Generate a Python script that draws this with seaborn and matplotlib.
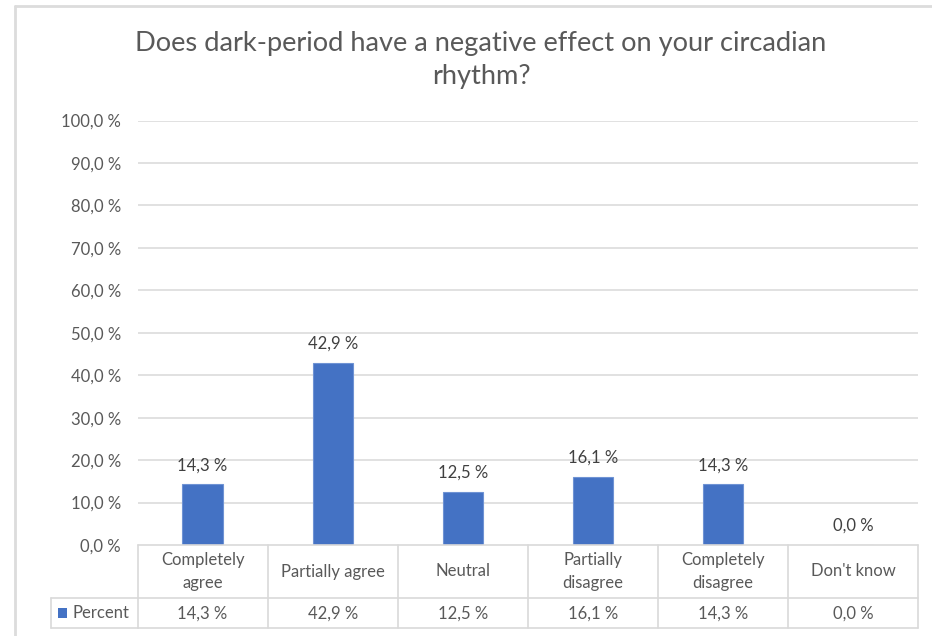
import matplotlib
matplotlib.use("Agg")
import matplotlib.pyplot as plt
import matplotlib.transforms as mtransforms
from matplotlib.patches import Rectangle
from matplotlib.lines import Line2D
import seaborn as sns
import pandas as pd

# ---- data ----
categories = ["Completely agree", "Partially agree", "Neutral",
              "Partially disagree", "Completely disagree", "Don't know"]
category_labels = ["Completely\nagree", "Partially agree", "Neutral",
                   "Partially\ndisagree", "Completely\ndisagree", "Don't know"]
percent = [14.3, 42.9, 12.5, 16.1, 14.3, 0.0]
y_ticks = [0, 10, 20, 30, 40, 50, 60, 70, 80, 90, 100]
series_name = "Percent"
title = "Does dark-period have a negative effect on your circadian\nrhythm?"

def fmt(v):
    return f"{v:.1f} %".replace(".", ",")

df = pd.DataFrame({"category": categories, "percent": percent})

sns.set_theme(style="white")
plt.rcParams["font.family"] = ["Lato", "DejaVu Sans"]

W, H = 932, 636
fig = plt.figure(figsize=(W / 100, H / 100), dpi=100)
fig.patch.set_facecolor("white")

def fx(x):
    return x / W

def fy(y):
    return 1 - y / H

# axes area in pixels
L, R, T, B = 137.5, 918.3, 120.5, 545.0
ax = fig.add_axes([fx(L), fy(B), fx(R) - fx(L), fy(T) - fy(B)])

BLUE = "#4472C4"
GRID = "#d9d9d9"
TXT = "#595959"
LBL = "#404040"
FS = 12

sns.barplot(data=df, x="category", y="percent", color=BLUE, width=0.31,
            saturation=1, ax=ax, edgecolor="#6f93d4", linewidth=0.8, zorder=3)
ax.set_xlim(-0.5, len(categories) - 0.5)
ax.set_ylim(0, 100)
ax.set_yticks(y_ticks)
ax.set_yticklabels([fmt(v) for v in y_ticks], color=TXT, fontsize=FS)
ax.tick_params(axis="y", length=0, pad=12)
ax.set_xticks([])
ax.set_xlabel("")
ax.set_ylabel("")
for s in ax.spines.values():
    s.set_visible(False)
for v in y_ticks[1:]:
    ax.axhline(v, color=GRID, lw=1.1, zorder=1)

# data labels
for i, v in enumerate(percent):
    ax.annotate(fmt(v), (i, v), xytext=(0, 14), textcoords="offset pixels",
                ha="center", va="baseline", fontsize=FS, color=LBL)

# ---- data table ----
bt = mtransforms.blended_transform_factory(ax.transData, fig.transFigure)
ft = fig.transFigure
n = len(categories)
y_top, y_mid, y_bot = 545.0, 598.0, 628.0
x_left = 51.0
lc = GRID
lw = 1.2

# horizontal lines
fig.add_artist(Line2D([-0.5, n - 0.5], [fy(y_top)] * 2, transform=bt, color=lc, lw=lw))
fig.add_artist(Line2D([fx(x_left), fx(L)], [fy(y_mid)] * 2, transform=ft, color=lc, lw=lw))
fig.add_artist(Line2D([-0.5, n - 0.5], [fy(y_mid)] * 2, transform=bt, color=lc, lw=lw))
fig.add_artist(Line2D([fx(x_left), fx(L)], [fy(y_bot)] * 2, transform=ft, color=lc, lw=lw))
fig.add_artist(Line2D([-0.5, n - 0.5], [fy(y_bot)] * 2, transform=bt, color=lc, lw=lw))
# vertical lines
for i in range(n + 1):
    fig.add_artist(Line2D([i - 0.5, i - 0.5], [fy(y_top), fy(y_bot)], transform=bt,
                          color=lc, lw=lw))
fig.add_artist(Line2D([fx(x_left)] * 2, [fy(y_mid), fy(y_bot)], transform=ft, color=lc, lw=lw))

row1 = (y_top + y_mid) / 2
row2 = (y_mid + y_bot) / 2 + 0.5
for i, (lab, v) in enumerate(zip(category_labels, percent)):
    fig.text(i, fy(row1), lab, transform=bt, ha="center", va="center",
             fontsize=FS, color=TXT, linespacing=1.55)
    fig.text(i, fy(row2), fmt(v), transform=bt, ha="center", va="center",
             fontsize=FS, color=TXT)

# legend key
fig.add_artist(Rectangle((fx(57.5), fy(617.5)), fx(9.5), 9.5 / H, transform=ft,
                         facecolor=BLUE, edgecolor="none"))
fig.text(fx(72.5), fy(row2), series_name, ha="left", va="center",
         fontsize=FS, color=TXT)

# title
fig.text(fx(481), fy(60), title, ha="center", va="center", fontsize=19.6,
         color=TXT, linespacing=1.42)

# outer chart border (partially visible)
fig.add_artist(Line2D([fx(14.5), 1.0], [fy(5.5)] * 2, transform=ft, color="#dcdcdc", lw=2))
fig.add_artist(Line2D([fx(15), fx(15)], [fy(5.5), 0.0], transform=ft, color="#dcdcdc", lw=2))

fig.savefig("out.png", dpi=100, facecolor="white")
